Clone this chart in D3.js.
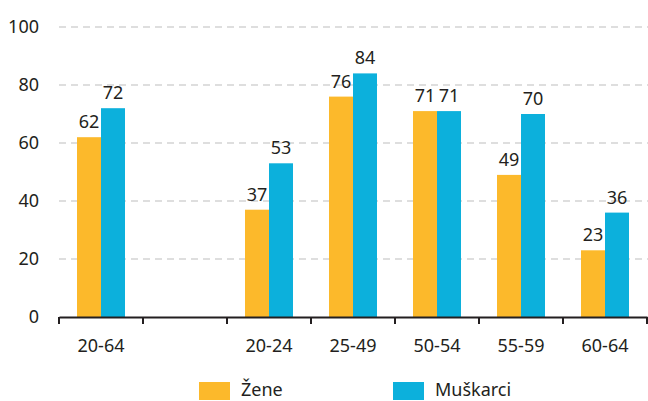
<!DOCTYPE html>
<meta charset="utf-8">
<head>
<script src="https://d3js.org/d3.v7.min.js"></script>
<style>
  body { margin: 0; background: #fff; }
  text { font-family: "Noto Sans", "Open Sans", sans-serif; fill: #231f20; }
</style>
</head>
<body>
<svg id="chart"></svg>
<script>
// data
var categories = ["20-64", "", "20-24", "25-49", "50-54", "55-59", "60-64"];
var zene      = [62, null, 37, 76, 71, 49, 23];
var muskarci  = [72, null, 53, 84, 71, 70, 36];
var series    = ["Žene", "Muškarci"];
var yTicks    = [0, 20, 40, 60, 80, 100];

var W = 648, H = 401;
var colors = ["#fcb92b", "#0cb0dc"];
var fs = "18px";

var svg = d3.select("#chart").attr("width", W).attr("height", H);

var x = d3.scaleBand().domain(d3.range(categories.length)).range([59, 647]);
var y = d3.scaleLinear().domain([0, 100]).range([317, 27]);
var barW = 24;

// gridlines
svg.append("g").selectAll("line")
    .data(yTicks.filter(function(d){ return d > 0; }))
  .join("line")
    .attr("x1", 59).attr("x2", W)
    .attr("y1", function(d){ return y(d); }).attr("y2", function(d){ return y(d); })
    .attr("stroke", "#bdbdbd").attr("stroke-width", 1)
    .attr("stroke-dasharray", "7,5");

// y labels
svg.append("g").selectAll("text")
    .data(yTicks)
  .join("text")
    .attr("x", 39).attr("y", function(d){ return y(d); })
    .attr("dy", "0.36em")
    .attr("text-anchor", "end")
    .style("font-size", fs)
    .text(function(d){ return d; });

// bars
var all = [zene, muskarci];
all.forEach(function(vals, s){
  var data = vals.map(function(v, i){ return {i: i, v: v}; }).filter(function(d){ return d.v != null; });
  var g = svg.append("g");
  g.selectAll("rect").data(data).join("rect")
    .attr("x", function(d){ return x(d.i) + x.bandwidth()/2 - barW + s*barW; })
    .attr("width", barW)
    .attr("y", function(d){ return y(d.v); })
    .attr("height", function(d){ return y(0) - y(d.v); })
    .attr("fill", colors[s]);
  g.selectAll("text").data(data).join("text")
    .attr("x", function(d){ return x(d.i) + x.bandwidth()/2 - barW/2 + s*barW; })
    .attr("y", function(d){ return y(d.v) - 9; })
    .attr("text-anchor", "middle")
    .style("font-size", fs)
    .text(function(d){ return d.v; });
});

// x axis
var xAxis = d3.axisBottom(x).tickSize(0).tickFormat(function(i){ return categories[i]; });
var ax = svg.append("g").attr("transform", "translate(0," + y(0) + ")").call(xAxis);
ax.select(".domain").attr("stroke", "#231f20").attr("stroke-width", 2.2);
ax.selectAll("text").style("font-size", fs).attr("dy", 0).attr("y", 35)
  .style("font-family", "'Noto Sans', 'Open Sans', sans-serif").attr("fill", "#231f20");
ax.selectAll("line.sep")
    .data(d3.range(categories.length + 1))
  .join("line").attr("class", "sep")
    .attr("x1", function(i){ return 59 + i * x.bandwidth(); })
    .attr("x2", function(i){ return 59 + i * x.bandwidth(); })
    .attr("y1", 0).attr("y2", 7)
    .attr("stroke", "#231f20").attr("stroke-width", 2);

// legend
var legX = [199, 393];
var leg = svg.append("g").selectAll("g").data(series).join("g")
    .attr("transform", function(d, i){ return "translate(" + legX[i] + ",382)"; });
leg.append("rect").attr("width", 31).attr("height", 18)
    .attr("fill", function(d, i){ return colors[i]; });
leg.append("text").attr("x", 42).attr("y", 14)
    .style("font-size", fs).text(function(d){ return d; });
</script>
</body>
</html>
